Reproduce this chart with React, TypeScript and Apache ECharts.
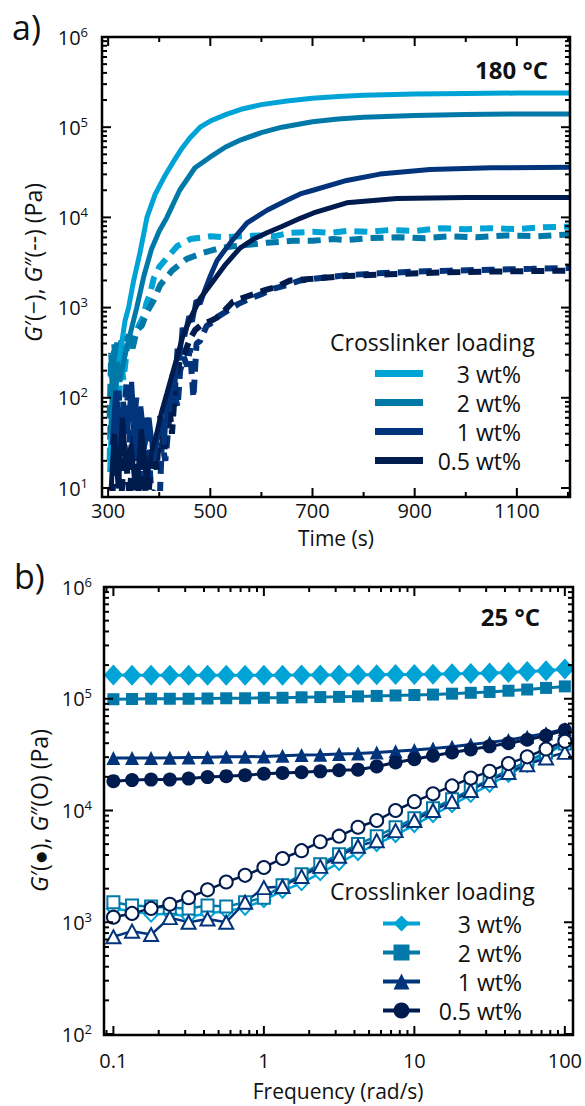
import React, { useEffect, useRef } from 'react';
import * as echarts from 'echarts';

const FONT = '"Open Sans", "Noto Sans", sans-serif';
const INK = '#111111';
const COLORS = ['#00A3D6', '#0079A8', '#02347C', '#001B4E'];
const LEGEND_NAMES = ['3 wt%', '2 wt%', '1 wt%', '0.5 wt%'];

// ---------------- Panel a : time sweep, 180 °C ----------------
const A_GRID = { left: 102, top: 37, width: 468, height: 460 };
const A_X_MIN = 288, A_X_MAX = 1204, A_Y_MIN = 10, A_Y_MAX = 1000000;
const A_X_LABELS = [300, 500, 700, 900, 1100];
const A_X_MINOR = [400, 600, 800, 1000, 1200];
const A_Y_DECADES = [10, 100, 1000, 10000, 100000, 1000000];

// G' (solid)
const tG1_3 = [303, 307, 311, 315, 320, 325, 333, 340, 350, 362, 376, 392, 410, 428, 445, 460, 480, 500, 530, 560, 600, 650, 700, 750, 800, 900, 1000, 1100, 1204];
const vG1_3 = [15, 60, 30, 130, 220, 355, 710, 1000, 2000, 3980, 10000, 18000, 28200, 41700, 58900, 75900, 100000, 117000, 138000, 158000, 178000, 195000, 209000, 219000, 226000, 234000, 237000, 239000, 240000];
const tG1_2 = [305, 309, 313, 318, 323, 330, 345, 356, 370, 385, 400, 415, 440, 470, 500, 530, 560, 600, 640, 700, 750, 800, 900, 1000, 1100, 1204];
const vG1_2 = [40, 160, 80, 250, 150, 251, 562, 1000, 2240, 4470, 7080, 10000, 20000, 35500, 46800, 60300, 72400, 87100, 100000, 115000, 123000, 129000, 135000, 138000, 140000, 140000];
const tG1_1 = [308, 315, 322, 330, 338, 346, 355, 364, 372, 380, 390, 398, 405, 410, 415, 420, 425, 430, 435, 440, 445, 450, 458, 465, 472, 480, 490, 500, 513, 530, 545, 572, 611, 650, 676, 701, 767, 832, 930, 1050, 1204];
const vG1_1 = [30, 120, 25, 90, 40, 150, 20, 80, 30, 60, 20, 40, 60, 30, 100, 70, 180, 120, 350, 260, 600, 480, 800, 700, 1200, 1100, 1600, 2240, 3310, 4470, 5750, 8710, 12000, 15500, 18200, 20000, 25700, 30200, 33900, 35500, 35900];
const tG1_05 = [305, 312, 320, 328, 336, 345, 355, 365, 375, 385, 395, 405, 415, 425, 435, 447, 461, 480, 500, 513, 530, 558, 585, 611, 640, 676, 702, 767, 865, 1000, 1204];
const vG1_05 = [8, 40, 10, 60, 15, 30, 8, 45, 12.6, 25, 40, 70.8, 112, 178, 282, 501, 759, 1260, 1780, 2240, 3020, 4570, 5750, 6760, 7940, 9770, 11200, 14500, 16200, 16600, 16600];

// G'' (dashed)
const tG2_3 = [303, 306, 310, 313, 316, 320, 325, 330, 338, 345, 350, 360, 369, 375, 382, 389, 400, 415, 435, 461, 500, 530, 558, 597, 625, 656, 700, 735, 767, 810, 850, 900, 950, 1000, 1050, 1100, 1150, 1204];
const vG2_3 = [20, 200, 40, 300, 100, 60, 251, 158, 398, 316, 447, 631, 794, 1120, 1410, 2090, 2820, 3550, 4790, 5750, 6170, 6030, 6170, 6310, 6170, 6760, 6920, 6760, 7080, 6920, 7240, 7080, 7590, 7410, 7590, 7410, 7760, 7940];
const tG2_2 = [303, 306, 309, 312, 315, 318, 321, 325, 330, 335, 340, 348, 356, 366, 376, 389, 402, 425, 454, 487, 520, 545, 580, 611, 640, 662, 700, 740, 767, 810, 870, 920, 970, 1020, 1080, 1140, 1204];
const vG2_2 = [60, 316, 126, 400, 200, 450, 251, 447, 251, 400, 501, 355, 562, 631, 891, 1200, 1780, 2570, 3470, 4070, 4570, 4790, 5010, 5250, 5370, 5500, 5500, 5750, 5620, 5890, 6030, 5890, 6170, 6030, 6310, 6170, 6460];
const tG2_1 = [305, 312, 320, 328, 336, 345, 355, 365, 375, 385, 395, 400, 405, 412, 420, 428, 436, 441, 448, 455, 460, 467, 473, 480, 493, 500, 515, 532, 555, 578, 600, 624, 650, 676, 720, 767, 830, 900, 970, 1050, 1130, 1204];
const vG2_1 = [50, 15, 120, 30, 150, 20, 100, 12, 60, 8, 10, 5, 32, 20, 63, 123, 79, 200, 282, 224, 355, 100, 398, 427, 631, 661, 794, 912, 1100, 1260, 1410, 1620, 1780, 2000, 2140, 2290, 2400, 2510, 2570, 2630, 2690, 2750];
const tG2_05 = [308, 316, 324, 332, 342, 352, 362, 370, 375, 380, 388, 395, 402, 410, 418, 425, 432, 440, 450, 460, 470, 485, 500, 513, 530, 545, 570, 591, 610, 630, 656, 700, 767, 850, 950, 1050, 1204];
const vG2_05 = [8, 40, 5, 30, 8, 50, 6, 25, 5, 10, 32, 16, 63, 25, 100, 40, 158, 251, 316, 447, 562, 661, 708, 776, 955, 1170, 1320, 1450, 1580, 1700, 2000, 2090, 2240, 2340, 2450, 2510, 2570];

// ---------------- Panel b : frequency sweep, 25 °C ----------------
const B_GRID = { left: 104, top: 34, width: 469, height: 448 };
const B_X_MIN = 0.0866, B_X_MAX = 112, B_Y_MIN = 100, B_Y_MAX = 1000000;
const B_X_LABELS = [0.1, 1, 10, 100];
const B_Y_DECADES = [100, 1000, 10000, 100000, 1000000];
const freq = [0.1, 0.133, 0.178, 0.237, 0.316, 0.422, 0.562, 0.75, 1, 1.33, 1.78, 2.37, 3.16, 4.22, 5.62, 7.5, 10, 13.3, 17.8, 23.7, 31.6, 42.2, 56.2, 75, 100];
// G' (filled)
const bG1_3 = [163000, 162000, 162000, 162000, 162000, 162000, 162000, 162000, 162000, 162000, 163000, 163000, 163000, 164000, 164000, 165000, 165000, 166000, 167000, 168000, 170000, 172000, 175000, 178000, 185000];
const bG1_2 = [99000, 99500, 100000, 100000, 100000, 100500, 101000, 101000, 102000, 102000, 103000, 103500, 104000, 105000, 106000, 107000, 108000, 109000, 111000, 113000, 115000, 118000, 121000, 125000, 129000];
const bG1_1 = [29500, 29500, 29500, 29600, 29800, 29900, 30200, 30200, 30500, 30900, 31300, 31600, 32000, 32400, 33100, 33900, 34700, 35900, 37200, 38900, 40700, 42700, 45700, 49000, 53700];
const bG1_05 = [18300, 18700, 18900, 18900, 19300, 19900, 20300, 20700, 21300, 21700, 22000, 22400, 22900, 23200, 24800, 26900, 28800, 30900, 33100, 35100, 37500, 40000, 43000, 46800, 52500];
// G'' (open)
const bG2_3 = [1320, 1260, 1170, 1200, 1120, 1200, 1260, 1350, 1580, 1910, 2240, 2750, 3390, 4170, 5010, 6030, 7410, 9120, 11200, 13800, 17000, 20900, 25700, 31600, 39800];
const bG2_2 = [1510, 1410, 1380, 1350, 1330, 1410, 1380, 1510, 1660, 2140, 2690, 3310, 4070, 5010, 5890, 7080, 8510, 10500, 12600, 15500, 19100, 22900, 27500, 33100, 39800];
const bG2_1 = [741, 832, 776, 1100, 1000, 1070, 1000, 1510, 2040, 2090, 2570, 3160, 3890, 4790, 5370, 6610, 8130, 10000, 12000, 15100, 18600, 21900, 25700, 29500, 33100];
const bG2_05 = [1110, 1200, 1330, 1450, 1660, 1950, 2290, 2630, 3090, 3720, 4370, 5250, 5890, 7080, 8130, 10000, 12000, 14100, 16600, 19500, 22400, 26300, 30200, 35500, 41700];

const B_SOLID_SYMBOLS = ['diamond', 'rect', 'triangle', 'circle'];
const B_SOLID_SIZES: any[] = [[19, 21], 12, [14, 14], 14];
const B_OPEN_SYMBOLS = ['emptyDiamond', 'emptyRect', 'emptyTriangle', 'emptyCircle'];
const B_OPEN_SIZES: any[] = [[13, 14], 12, [14, 13], 13];

// ---------------- helpers ----------------
const pairs = (xs: number[], ys: number[]) => xs.map((x, i) => [x, ys[i]]);

function minorLog(lo: number, hi: number) {
  const out: number[] = [];
  for (let e = -3; e <= 7; e++) {
    for (let k = 2; k <= 9; k++) {
      const v = k * Math.pow(10, e);
      if (v >= lo && v <= hi) out.push(Number(v.toPrecision(3)));
    }
  }
  return out;
}

function logLabel(v: number) {
  const e = Math.round(Math.log10(v));
  return `{b|10}{s|${e}}`;
}

const LOG_RICH = {
  b: { fontSize: 20, fontFamily: FONT, color: INK, lineHeight: 24, verticalAlign: 'middle' },
  s: { fontSize: 13, fontFamily: FONT, color: INK, lineHeight: 10, verticalAlign: 'top' },
};

function axis(base: any, label: any, nameOpts: any) {
  return {
    ...base, ...nameOpts,
    axisLine: { show: false, onZero: false },
    axisTick: { show: false },
    axisLabel: label,
    splitLine: { show: false },
  };
}

// frame + inward ticks on all four sides, positioned through the chart's own axis scales
function frameGraphics(chart: any, grid: any, xMajor: number[], xMinor: number[], yMajor: number[], yMinor: number[], xRef: number, yRef: number) {
  const els: any[] = [];
  const L = grid.left, T = grid.top, R = grid.left + grid.width, B = grid.top + grid.height;
  const tickStyle = { stroke: '#000', lineWidth: 2 };
  const px = (v: number) => chart.convertToPixel({ gridIndex: 0 }, [v, yRef])[0];
  const py = (v: number) => chart.convertToPixel({ gridIndex: 0 }, [xRef, v])[1];
  const addX = (v: number, len: number) => {
    const x = px(v);
    if (!isFinite(x) || x < L || x > R) return;
    els.push({ type: 'line', z: 100, silent: true, shape: { x1: x, y1: B, x2: x, y2: B - len }, style: tickStyle });
    els.push({ type: 'line', z: 100, silent: true, shape: { x1: x, y1: T, x2: x, y2: T + len }, style: tickStyle });
  };
  const addY = (v: number, len: number) => {
    const y = py(v);
    if (!isFinite(y) || y < T - 0.5 || y > B + 0.5) return;
    els.push({ type: 'line', z: 100, silent: true, shape: { x1: L, y1: y, x2: L + len, y2: y }, style: tickStyle });
    els.push({ type: 'line', z: 100, silent: true, shape: { x1: R, y1: y, x2: R - len, y2: y }, style: tickStyle });
  };
  xMajor.forEach((v) => addX(v, 9));
  xMinor.forEach((v) => addX(v, 5));
  yMajor.forEach((v) => addY(v, 9));
  yMinor.forEach((v) => addY(v, 5));
  els.push({ type: 'rect', z: 101, silent: true, shape: { x: L, y: T, width: grid.width, height: grid.height }, style: { fill: 'none', stroke: '#000', lineWidth: 2.5 } });
  return els;
}

function legendOpt(left: number, top: number, itemWidth: number, itemHeight: number, textWidth: number, extra: any) {
  return {
    data: LEGEND_NAMES,
    orient: 'vertical',
    left, top,
    padding: 0,
    itemGap: 6,
    itemWidth, itemHeight,
    selectedMode: false,
    itemStyle: { borderWidth: 0 },
    formatter: (n: string) => `{r|${n}}`,
    textStyle: {
      fontFamily: FONT, fontSize: 22, color: INK, lineHeight: 22,
      rich: { r: { width: textWidth, align: 'right', fontFamily: FONT, fontSize: 23, color: INK, lineHeight: 22 } },
    },
    ...extra,
  };
}

const TEXTS_A = [
  { type: 'text', left: 12, top: 10, style: { text: 'a)', font: '34px "Open Sans", sans-serif', fill: INK } },
  { type: 'text', x: 548, y: 69, style: { text: '180 °C', font: 'bold 24px "Open Sans", sans-serif', fill: INK, align: 'right', verticalAlign: 'middle' } },
  { type: 'text', x: 330, y: 342, style: { text: 'Crosslinker loading', font: '23px "Open Sans", sans-serif', fill: INK, align: 'left', verticalAlign: 'middle' } },
];
const TEXTS_B = [
  { type: 'text', left: 14, top: 6, style: { text: 'b)', font: '34px "Open Sans", sans-serif', fill: INK } },
  { type: 'text', x: 540, y: 63, style: { text: '25 °C', font: 'bold 24px "Open Sans", sans-serif', fill: INK, align: 'right', verticalAlign: 'middle' } },
  { type: 'text', x: 330, y: 338, style: { text: 'Crosslinker loading', font: '23px "Open Sans", sans-serif', fill: INK, align: 'left', verticalAlign: 'middle' } },
];

function optionA() {
  const gpp = [[tG2_3, vG2_3], [tG2_2, vG2_2], [tG2_1, vG2_1], [tG2_05, vG2_05]];
  const gp = [[tG1_3, vG1_3], [tG1_2, vG1_2], [tG1_1, vG1_1], [tG1_05, vG1_05]];
  const series: any[] = [];
  gpp.forEach((s, i) => series.push({
    type: 'line', name: LEGEND_NAMES[i] + ' G″', data: pairs(s[0], s[1]),
    symbol: 'none', showSymbol: false, silent: true, clip: true, color: COLORS[i],
    lineStyle: { color: COLORS[i], width: 6, type: [13, 8], cap: 'butt' },
  }));
  gp.forEach((s, i) => series.push({
    type: 'line', name: LEGEND_NAMES[i], data: pairs(s[0], s[1]),
    symbol: 'none', showSymbol: false, silent: true, clip: true, color: COLORS[i],
    lineStyle: { color: COLORS[i], width: 5 },
  }));
  return {
    animation: false,
    backgroundColor: '#fff',
    textStyle: { fontFamily: FONT },
    grid: { ...A_GRID, show: false },
    xAxis: axis({ type: 'value', min: A_X_MIN, max: A_X_MAX, position: 'bottom' },
      { show: true, customValues: A_X_LABELS, margin: 12, fontSize: 20, fontFamily: FONT, color: INK, formatter: (v: number) => String(v) },
      { name: 'Time (s)', nameLocation: 'middle', nameGap: 39, nameTextStyle: { fontSize: 21, fontFamily: FONT, color: INK } }),
    yAxis: axis({ type: 'log', logBase: 10, min: A_Y_MIN, max: A_Y_MAX, position: 'left' },
      { show: true, customValues: A_Y_DECADES, margin: 14, formatter: logLabel, rich: LOG_RICH },
      {
        name: '{i|G}′(−), {i|G}″(--) (Pa)', nameLocation: 'middle', nameGap: 58,
        nameTextStyle: { fontSize: 23, fontFamily: FONT, color: INK, rich: { i: { fontStyle: 'italic', fontSize: 23, fontFamily: FONT, color: INK } } },
      }),
    legend: legendOpt(375, 362, 48, 7, 93, { icon: 'rect' }),
    series,
  };
}

function optionB() {
  const gp = [bG1_3, bG1_2, bG1_1, bG1_05];
  const gpp = [bG2_3, bG2_2, bG2_1, bG2_05];
  const series: any[] = [];
  gp.forEach((v, i) => series.push({
    type: 'line', name: LEGEND_NAMES[i], data: pairs(freq, v),
    symbol: B_SOLID_SYMBOLS[i], symbolSize: B_SOLID_SIZES[i], showSymbol: true, silent: true, color: COLORS[i],
    itemStyle: { color: COLORS[i], borderWidth: 0 },
    lineStyle: { color: COLORS[i], width: 3 },
  }));
  gpp.forEach((v, i) => series.push({
    type: 'line', name: LEGEND_NAMES[i] + ' G″', data: pairs(freq, v),
    symbol: B_OPEN_SYMBOLS[i], symbolSize: B_OPEN_SIZES[i], showSymbol: true, silent: true, color: COLORS[i],
    itemStyle: { color: COLORS[i], borderColor: COLORS[i], borderWidth: 2 },
    lineStyle: { color: COLORS[i], width: 2.5 },
  }));
  return {
    animation: false,
    backgroundColor: '#fff',
    textStyle: { fontFamily: FONT },
    grid: { ...B_GRID, show: false },
    xAxis: axis({ type: 'log', logBase: 10, min: B_X_MIN, max: B_X_MAX, position: 'bottom' },
      {
        show: true, customValues: B_X_LABELS, margin: 16, fontSize: 20, fontFamily: FONT, color: INK,
        formatter: (v: number) => (v < 1 ? v.toFixed(1) : String(Math.round(v))),
      },
      { name: 'Frequency (rad/s)', nameLocation: 'middle', nameGap: 46, nameTextStyle: { fontSize: 21, fontFamily: FONT, color: INK } }),
    yAxis: axis({ type: 'log', logBase: 10, min: B_Y_MIN, max: B_Y_MAX, position: 'left' },
      { show: true, customValues: B_Y_DECADES, margin: 12, formatter: logLabel, rich: LOG_RICH },
      {
        name: '{i|G}′(●), {i|G}″(O) (Pa)', nameLocation: 'middle', nameGap: 50,
        nameTextStyle: { fontSize: 23, fontFamily: FONT, color: INK, rich: { i: { fontStyle: 'italic', fontSize: 23, fontFamily: FONT, color: INK } } },
      }),
    legend: legendOpt(381, 359, 37, 20, 97, { lineStyle: { width: 4 } }),
    series,
  };
}

export default function App() {
  const refA = useRef<HTMLDivElement>(null);
  const refB = useRef<HTMLDivElement>(null);
  useEffect(() => {
    const ca = echarts.init(refA.current as HTMLDivElement, undefined, { renderer: 'svg' });
    const cb = echarts.init(refB.current as HTMLDivElement, undefined, { renderer: 'svg' });
    ca.setOption(optionA() as any);
    cb.setOption(optionB() as any);
    ca.setOption({
      graphic: [...TEXTS_A, ...frameGraphics(ca, A_GRID, A_X_LABELS, A_X_MINOR, A_Y_DECADES, minorLog(A_Y_MIN, A_Y_MAX), A_X_MIN, A_Y_MIN)],
    } as any);
    cb.setOption({
      graphic: [...TEXTS_B, ...frameGraphics(cb, B_GRID, B_X_LABELS, minorLog(B_X_MIN, B_X_MAX), B_Y_DECADES, minorLog(B_Y_MIN, B_Y_MAX), B_X_MIN, B_Y_MIN)],
    } as any);
    return () => { ca.dispose(); cb.dispose(); };
  }, []);
  return (
    <div style={{ position: 'absolute', left: 0, top: 0, width: 585, height: 1106, background: '#fff' }}>
      <div ref={refA} style={{ width: 585, height: 553 }} />
      <div ref={refB} style={{ width: 585, height: 553 }} />
    </div>
  );
}
